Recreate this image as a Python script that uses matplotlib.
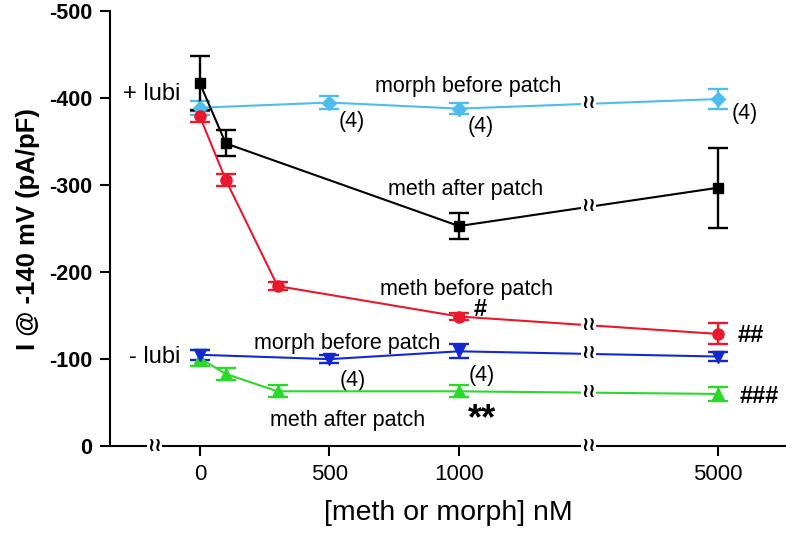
import numpy as np
import matplotlib
matplotlib.use("Agg")
from matplotlib import pyplot as plt

plt.rcParams['font.family'] = ['Liberation Sans', 'DejaVu Sans']
plt.rcParams['axes.unicode_minus'] = False

# concentrations (nM)
x_meth = [0, 100, 300, 1000, 5000]
x_morph = [0, 500, 1000, 5000]
x_meth_after = [0, 100, 1000, 5000]

# + lubi
meth_after_lubi = [-417, -348, -253, -297]
meth_after_lubi_err = [31, 15, 15, 46]
meth_before_lubi = [-379, -306, -184, -149, -129]
meth_before_lubi_err = [6, 6.5, 5, 4.5, 12]
morph_before_lubi = [-389, -395, -388, -399]
morph_before_lubi_err = [8, 7, 6, 12]

# - lubi
morph_before_nolubi = [-105, -100, -109, -103]
morph_before_nolubi_err = [6, 5, 8, 5]
meth_after_nolubi = [-101, -83, -63, -63, -60]
meth_after_nolubi_err = [9, 6.5, 7, 7, 8]

xticks = [0, 500, 1000, 5000]
yticks = [0, -100, -200, -300, -400, -500]


def pos(x):
    # broken x axis: 0-1000 linear, 5000 drawn one "1000" further
    return np.interp(x, [0, 1000, 5000], [0, 1000, 2000])


fig = plt.figure(figsize=(7.86, 5.33), dpi=100)
ax = fig.add_axes([0.14, 0.163, 0.86, 0.816])

series = [
    (x_morph, morph_before_lubi, morph_before_lubi_err, '#4dbdf0', 'D', 7),
    (x_meth, meth_before_lubi, meth_before_lubi_err, '#e8192c', 'o', 8),
    (x_meth_after, meth_after_lubi, meth_after_lubi_err, 'black', 's', 7.5),
    (x_meth, meth_after_nolubi, meth_after_nolubi_err, '#2bd92b', '^', 9),
    (x_morph, morph_before_nolubi, morph_before_nolubi_err, '#1428d2', 'v', 9),
]

for xs, ys, es, c, m, ms in series:
    xp = pos(xs)
    ax.errorbar(xp, ys, yerr=es, color=c, marker=m, markersize=ms, lw=1.5,
                capsize=7.5, capthick=1.7, elinewidth=1.7, clip_on=False, zorder=3)
    # break marks on the lines
    yb = np.interp(1500, xp, ys)
    ax.text(1500, yb, '≀≀', ha='center', va='center', fontsize=14,
            fontweight='bold', color='black', zorder=4,
            bbox=dict(fc='white', ec='none', pad=0.2))

# break marks on the x axis
for xb in [-174, 1502]:
    ax.text(xb, 0, '≀≀', ha='center', va='center', fontsize=14,
            fontweight='bold', color='black', clip_on=False, zorder=5,
            bbox=dict(fc='white', ec='none', pad=0.2))

ax.set_xlim(-347, 2263)
ax.set_ylim(0, -500)
ax.set_xticks(pos(xticks))
ax.set_xticklabels([str(t) for t in xticks], fontsize=16)
ax.set_yticks(yticks)
ax.set_yticklabels([str(t) for t in yticks], fontsize=15.5, fontweight='bold')
ax.tick_params(direction='out', length=7, width=1.5, pad=6)
for s in ['top', 'right']:
    ax.spines[s].set_visible(False)
for s in ['left', 'bottom']:
    ax.spines[s].set_linewidth(1.5)

ax.set_ylabel('I @ -140 mV (pA/pF)', fontsize=18.5, fontweight='bold', labelpad=6)
ax.set_xlabel('[meth or morph] nM', fontsize=20.5, labelpad=11)

# annotations
kw = dict(ha='center', va='center', fontsize=15.5)
hk = dict(ha='center', va='center', fontsize=17, fontweight='bold')
ax.text(-77, -405, '+ lubi', ha='right', va='center', fontsize=17)
ax.text(-77, -103, '- lubi', ha='right', va='center', fontsize=17)
ax.text(1035, -414, 'morph before patch', **kw)
ax.text(587, -373, '(4)', **kw)
ax.text(1085, -367, '(4)', **kw)
ax.text(2104, -382, '(4)', **kw)
ax.text(1027, -295, 'meth after patch', **kw)
ax.text(1031, -180, 'meth before patch', **kw)
ax.text(1081, -157, '#', **hk)
ax.text(2128, -127, '##', **hk)
ax.text(2160, -57, '###', **hk)
ax.text(1090, -30, '**', ha='center', va='center', fontsize=26, fontweight='bold')
ax.text(569, -118, 'morph before patch', **kw)
ax.text(591, -75, '(4)', **kw)
ax.text(1088, -81, '(4)', **kw)
ax.text(570, -30, 'meth after patch', **kw)

fig.savefig('out.png', dpi=100)
